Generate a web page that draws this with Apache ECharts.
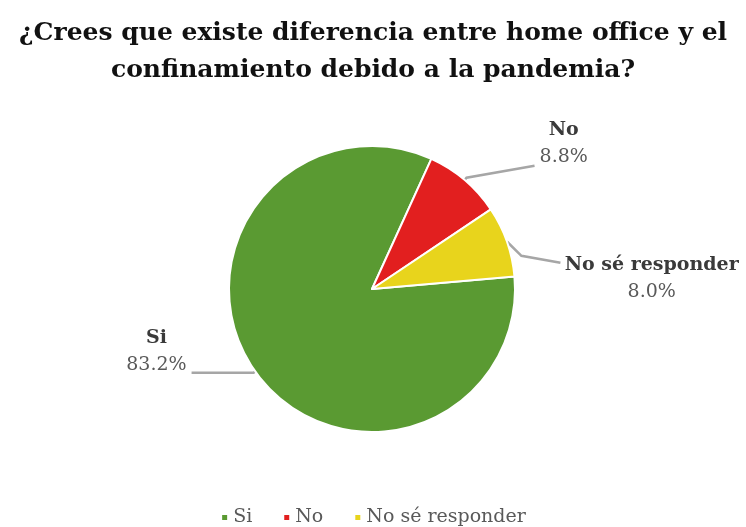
<!DOCTYPE html>
<html>
<head>
<meta charset="utf-8">
<script src="https://cdn.jsdelivr.net/npm/echarts@6/dist/echarts.min.js"></script>
<style>
  html, body { margin: 0; padding: 0; background: #fff; }
  #chart { width: 746px; height: 527px; }
</style>
</head>
<body>
<div id="chart"></div>
<script>
// Survey answers and their shares (percent)
const categories = ['Si', 'No', 'No sé responder'];
const shares = [83.2, 8.8, 8.0];
const sliceColors = ['#5a9a32', '#e21f1f', '#e8d41c'];

const titleLines = [
  '¿Crees que existe diferencia entre home office y el',
  'confinamiento debido a la pandemia?'
];

const serif = '"DejaVu Serif", "Liberation Serif", serif';

// leader lines: radial length, horizontal length
const lineLen = [[2, 62], [3, 68], [8, 46]];
// leader bends: [elbow dx, elbow dy, end dx, end dy]
const bend = [[0, 0, 0, 0], [0, 0, 0, -12], [7, 17, 0, 24]];
// label block offsets
const nudge = [[0, -21], [0, -34], [1, 40]];

const chart = echarts.init(document.getElementById('chart'), null, { renderer: 'canvas' });

chart.setOption({
  backgroundColor: '#ffffff',
  animation: false,
  title: {
    text: titleLines.join('\n'),
    left: 'center',
    top: 10,
    textStyle: {
      fontFamily: serif,
      fontWeight: 'bold',
      fontSize: 25,
      lineHeight: 37,
      color: '#111'
    }
  },
  legend: {
    top: 503,
    left: 'center',
    icon: 'rect',
    itemWidth: 7,
    itemHeight: 7,
    itemGap: 30,
    data: categories,
    textStyle: { fontFamily: serif, fontSize: 19, color: '#595959' }
  },
  series: [{
    type: 'pie',
    center: [372, 289],
    radius: 143,
    startAngle: 5,
    clockwise: true,
    itemStyle: { borderColor: '#ffffff', borderWidth: 2 },
    label: {
      show: true,
      position: 'outside',
      overflow: 'none',
      fontFamily: serif,
      formatter: (p) => '{n|' + p.name + '}\n{v|' + p.value.toFixed(1) + '%}',
      rich: {
        n: { fontFamily: serif, fontWeight: 'bold', fontSize: 19, color: '#3a3a3a', align: 'center', lineHeight: 27 },
        v: { fontFamily: serif, fontSize: 19, color: '#595959', align: 'center', lineHeight: 27 }
      }
    },
    labelLine: {
      show: true,
      lineStyle: { color: '#a6a6a6', width: 2.5 }
    },
    labelLayout: (params) => {
      const i = params.dataIndex;
      const pts = params.labelLinePoints;
      const out = { dx: nudge[i][0], dy: nudge[i][1] };
      if (pts && pts.length === 3) {
        const b = bend[i];
        out.labelLinePoints = [
          pts[0],
          [pts[1][0] + b[0], pts[1][1] + b[1]],
          [pts[2][0] + b[2], pts[2][1] + b[3]]
        ];
      }
      return out;
    },
    data: categories.map((name, i) => ({
      name,
      value: shares[i],
      itemStyle: { color: sliceColors[i] },
      labelLine: { length: lineLen[i][0], length2: lineLen[i][1] }
    }))
  }]
});
</script>
</body>
</html>
